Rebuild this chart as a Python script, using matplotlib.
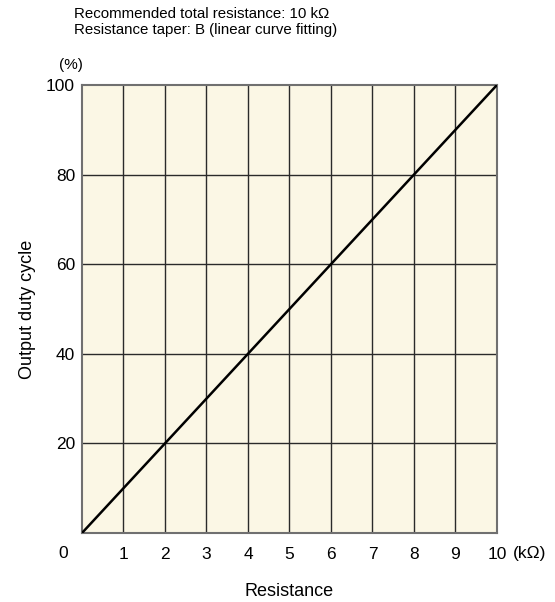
import matplotlib
matplotlib.use("Agg")
import matplotlib.pyplot as plt

plt.rcParams["font.family"] = ["Liberation Sans", "DejaVu Sans"]

# data
resistance = [0, 10]        # kOhm
duty_cycle = [0, 100]       # %
x_ticks = [1, 2, 3, 4, 5, 6, 7, 8, 9, 10]
y_ticks = [20, 40, 60, 80, 100]

fig = plt.figure(figsize=(5.55, 6.02), dpi=100)
ax = fig.add_axes([0.1477, 0.1146, 0.7477, 0.7442])
ax.set_facecolor("#FBF7E5")

ax.set_xlim(0, 10)
ax.set_ylim(0, 100)

for x in x_ticks[:-1]:
    ax.axvline(x, color="#2a2a2a", lw=1.0, zorder=1)
for y in y_ticks[:-1]:
    ax.axhline(y, color="#2a2a2a", lw=1.0, zorder=1)

ax.plot(resistance, duty_cycle, color="black", lw=1.8, zorder=3)

for s in ax.spines.values():
    s.set_color("#707070")
    s.set_linewidth(1.5)

ax.set_xticks(x_ticks)
ax.set_xticklabels([str(v) for v in x_ticks])
ax.set_yticks(y_ticks)
ax.set_yticklabels([str(v) for v in y_ticks])
ax.tick_params(length=0, labelsize=12.5, colors="black")
ax.tick_params(axis="x", pad=10)
ax.tick_params(axis="y", pad=5)

# shared origin label at the corner
ax.text(-0.046, -0.03, "0", transform=ax.transAxes, fontsize=12.5,
        ha="center", va="top")
ax.text(1.078, -0.03, "(kΩ)", transform=ax.transAxes, fontsize=12.5,
        ha="center", va="top")
ax.text(-0.027, 1.03, "(%)", transform=ax.transAxes, fontsize=11,
        ha="center", va="bottom")

ax.set_xlabel("Resistance", fontsize=13, labelpad=15)
ax.set_ylabel("Output duty cycle", fontsize=13, labelpad=7)

fig.text(0.133, 0.988, "Recommended total resistance: 10 kΩ\nResistance taper: B (linear curve fitting)",
         fontsize=10.8, ha="left", va="top", linespacing=1.2)

fig.savefig("out.png", dpi=100)
